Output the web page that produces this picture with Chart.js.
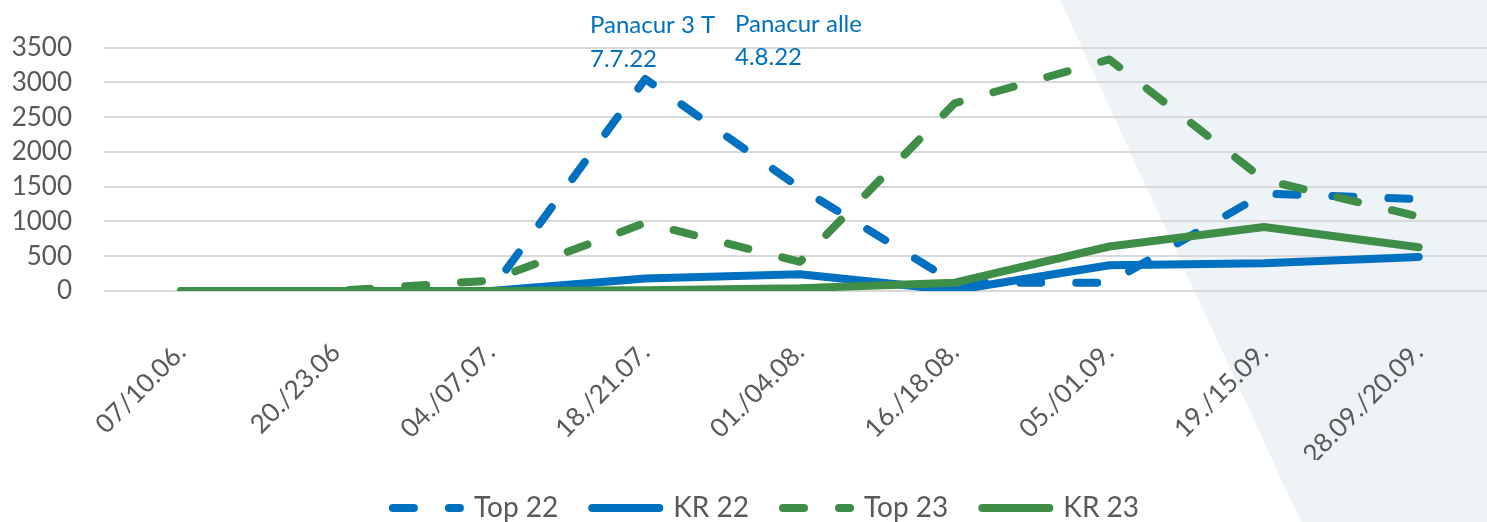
<!DOCTYPE html>
<html>
<head>
<meta charset="utf-8">
<script src="https://cdn.jsdelivr.net/npm/chart.js@4"></script>
<style>
  html, body { margin: 0; padding: 0; background: #fff; overflow: hidden; }
  #wrap { width: 1496px; height: 522px; overflow: hidden; }
</style>
</head>
<body>
<div id="wrap"><canvas id="chart" width="1496" height="532"></canvas></div>
<script>
// Daten
const labels = ["07/10.06.", "20./23.06", "04./07.07.", "18./21.07.", "01./04.08.", "16./18.08.", "05./01.09.", "19./15.09.", "28.09./20.09."];
const top22 = [0, 0, 0, 3050, 1480, 120, 120, 1400, 1320];
const kr22 = [0, 0, 0, 180, 240, 10, 370, 400, 490];
const top23 = [0, 0, 150, 980, 420, 2700, 3330, 1600, 1070];
const kr23 = [0, 0, 0, 10, 40, 120, 640, 920, 630];

const blue = "#0070C0";
const green = "#3F8E47";
const grey = "#595959";
const dash = [21, 35];

// Hintergrund-Fläche rechts + Anmerkungen
const decor = {
  id: "decor",
  afterLayout(chart) {
    // Legende etwas nach rechts schieben (wie im Original)
    chart.legend.left += 18;
    chart.legend.right += 18;
  },
  beforeDraw(chart) {
    const ctx = chart.ctx;
    ctx.save();
    ctx.fillStyle = "#EEF3F7";
    ctx.beginPath();
    ctx.moveTo(1060, 0);
    ctx.lineTo(chart.width, 0);
    ctx.lineTo(chart.width, 522);
    ctx.lineTo(1301, 522);
    ctx.closePath();
    ctx.fill();
    ctx.restore();
  },
  afterDraw(chart) {
    const ctx = chart.ctx;
    ctx.save();
    ctx.fillStyle = blue;
    ctx.font = "24px Lato";
    ctx.textAlign = "left";
    ctx.textBaseline = "alphabetic";
    ctx.fillText("Panacur 3 T", 590, 33);
    ctx.fillText("7.7.22", 590, 67);
    ctx.fillText("Panacur alle", 735, 32);
    ctx.fillText("4.8.22", 735, 65);
    ctx.restore();
  }
};

function lineSet(label, data, color, dashed, order) {
  return {
    label: label,
    data: data,
    borderColor: color,
    backgroundColor: color,
    borderWidth: 8,
    borderDash: dashed ? dash : [],
    borderCapStyle: "round",
    borderJoinStyle: "round",
    pointRadius: 0,
    tension: 0,
    fill: false,
    order: order
  };
}

new Chart(document.getElementById("chart").getContext("2d"), {
  type: "line",
  data: {
    labels: labels,
    datasets: [
      lineSet("Top 22", top22, blue, true, 4),
      lineSet("KR 22", kr22, blue, false, 3),
      lineSet("Top 23", top23, green, true, 2),
      lineSet("KR 23", kr23, green, false, 1)
    ]
  },
  options: {
    responsive: false,
    animation: false,
    layout: { padding: { top: 47, left: 0, right: 0, bottom: 0 } },
    plugins: {
      tooltip: { enabled: false },
      legend: {
        position: "bottom",
        labels: {
          usePointStyle: true,
          pointStyle: "line",
          pointStyleWidth: 67,
          boxHeight: 8,
          padding: 34,
          color: grey,
          font: { family: "Lato", size: 28 },
          generateLabels(chart) {
            const items = Chart.defaults.plugins.legend.labels.generateLabels(chart);
            items.forEach(it => {
              const ds = chart.data.datasets[it.datasetIndex];
              it.lineDash = ds.borderDash;
              it.lineCap = "round";
              it.lineWidth = 8;
              it.strokeStyle = ds.borderColor;
            });
            return items;
          },
          sort: (a, b) => a.datasetIndex - b.datasetIndex
        }
      }
    },
    scales: {
      x: {
        offset: true,
        grid: { display: false },
        border: { display: false },
        ticks: {
          color: grey,
          font: { family: "Lato", size: 26 },
          minRotation: 45,
          maxRotation: 45,
          autoSkip: false,
          padding: 38
        },
        afterFit(scale) { scale.height = 169; }
      },
      y: {
        min: 0,
        max: 3500,
        border: { display: false },
        grid: { color: "#D9D9D9", lineWidth: 2, drawTicks: false },
        ticks: {
          stepSize: 500,
          autoSkip: false,
          color: grey,
          font: { family: "Lato", size: 26 },
          padding: 32,
          callback: v => String(v)
        },
        afterFit(scale) { scale.width = 104; }
      }
    }
  },
  plugins: [decor]
});
</script>
</body>
</html>
